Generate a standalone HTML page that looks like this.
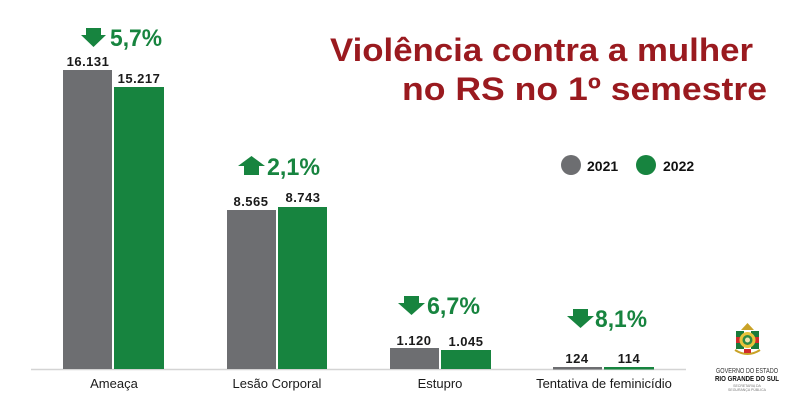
<!DOCTYPE html>
<html><head><meta charset="utf-8"><style>
html,body{margin:0;padding:0;background:#fff;}
svg{display:block;}
text{font-family:"Liberation Sans",Arial,sans-serif;}
</style></head><body>
<svg width="800" height="409" viewBox="0 0 800 409" xmlns="http://www.w3.org/2000/svg">
<rect width="800" height="409" fill="#fff"/>
<!-- title -->
<text x="330" y="61" font-size="32" font-weight="bold" fill="#9a1a1f" textLength="423" lengthAdjust="spacingAndGlyphs">Violência contra a mulher</text>
<text x="402" y="100" font-size="32" font-weight="bold" fill="#9a1a1f" textLength="365" lengthAdjust="spacingAndGlyphs">no RS no 1º semestre</text>
<!-- legend -->
<circle cx="571" cy="165" r="10" fill="#6d6e71"/>
<text x="587" y="171" font-size="14" font-weight="bold" fill="#111">2021</text>
<circle cx="646" cy="165" r="10" fill="#17843f"/>
<text x="663" y="171" font-size="14" font-weight="bold" fill="#111">2022</text>
<!-- axis -->
<line x1="31" y1="369.5" x2="686" y2="369.5" stroke="#d4d4d4" stroke-width="1.5"/>
<!-- bars -->
<rect x="63" y="70" width="49" height="299" fill="#6d6e71"/>
<rect x="114" y="87" width="50" height="282" fill="#17843f"/>
<rect x="227" y="210" width="49" height="159" fill="#6d6e71"/>
<rect x="278" y="207" width="49" height="162" fill="#17843f"/>
<rect x="390" y="348" width="49" height="21" fill="#6d6e71"/>
<rect x="441" y="350" width="50" height="19" fill="#17843f"/>
<rect x="553" y="367" width="49" height="2.5" fill="#6d6e71"/>
<rect x="604" y="367" width="50" height="2.5" fill="#17843f"/>
<!-- value labels -->
<g font-size="13" font-weight="bold" fill="#1a1a1a" text-anchor="middle" letter-spacing="0.5">
<text x="88" y="66">16.131</text>
<text x="139" y="83">15.217</text>
<text x="251" y="206">8.565</text>
<text x="303" y="202">8.743</text>
<text x="414" y="345">1.120</text>
<text x="466" y="346">1.045</text>
<text x="577" y="363">124</text>
<text x="629" y="363">114</text>
</g>
<!-- category labels -->
<g font-size="13" fill="#1a1a1a" text-anchor="middle">
<text x="114" y="388">Ameaça</text>
<text x="277" y="388">Lesão Corporal</text>
<text x="440" y="388">Estupro</text>
<text x="604" y="388">Tentativa de feminicídio</text>
</g>
<!-- percent labels -->
<g font-size="24" font-weight="bold" fill="#17843f">
<text x="110" y="46" textLength="52" lengthAdjust="spacingAndGlyphs">5,7%</text>
<text x="267" y="175" textLength="53" lengthAdjust="spacingAndGlyphs">2,1%</text>
<text x="427" y="314" textLength="53" lengthAdjust="spacingAndGlyphs">6,7%</text>
<text x="595" y="327" textLength="52" lengthAdjust="spacingAndGlyphs">8,1%</text>
</g>
<!-- arrows -->
<g fill="#17843f">
<polygon points="86,28 101,28 101,35 106,35 93.5,47 81,35 86,35"/>
<polygon points="244,175 259,175 259,166 265,166 251.5,156 238,166 244,166"/>
<polygon points="404,296 419,296 419,303 425,303 411.5,315 398,303 404,303"/>
<polygon points="573,309 588,309 588,316 594,316 580.5,328 567,316 573,316"/>
</g>
<!-- logo -->
<g>
<rect x="736" y="331" width="8" height="18" fill="#1a7a3a"/>
<rect x="751" y="331" width="8" height="18" fill="#1a7a3a"/>
<rect x="736" y="337" width="23" height="6" fill="#d12b2b"/>
<circle cx="747.5" cy="340" r="8" fill="#e8c33a"/>
<circle cx="747.5" cy="340" r="5" fill="#2f8a45"/>
<circle cx="747.5" cy="340" r="2.5" fill="#f1e6b0"/>
<polygon points="741,330 747.5,323 754,330" fill="#c9a227"/>
<path d="M735 350 Q747.5 358 760 350" stroke="#c9a227" stroke-width="2" fill="none"/>
<rect x="744" y="349" width="7" height="4" fill="#d12b2b"/>
</g>
<text x="747" y="373" font-size="7" fill="#333" text-anchor="middle" textLength="62" lengthAdjust="spacingAndGlyphs">GOVERNO DO ESTADO</text>
<text x="747" y="381" font-size="7.5" font-weight="bold" fill="#111" text-anchor="middle" textLength="64" lengthAdjust="spacingAndGlyphs">RIO GRANDE DO SUL</text>
<text x="747" y="387" font-size="3.5" fill="#777" text-anchor="middle">SECRETARIA DA</text>
<text x="747" y="391" font-size="3.5" fill="#777" text-anchor="middle">SEGURANÇA PÚBLICA</text>
</svg>
</body></html>
